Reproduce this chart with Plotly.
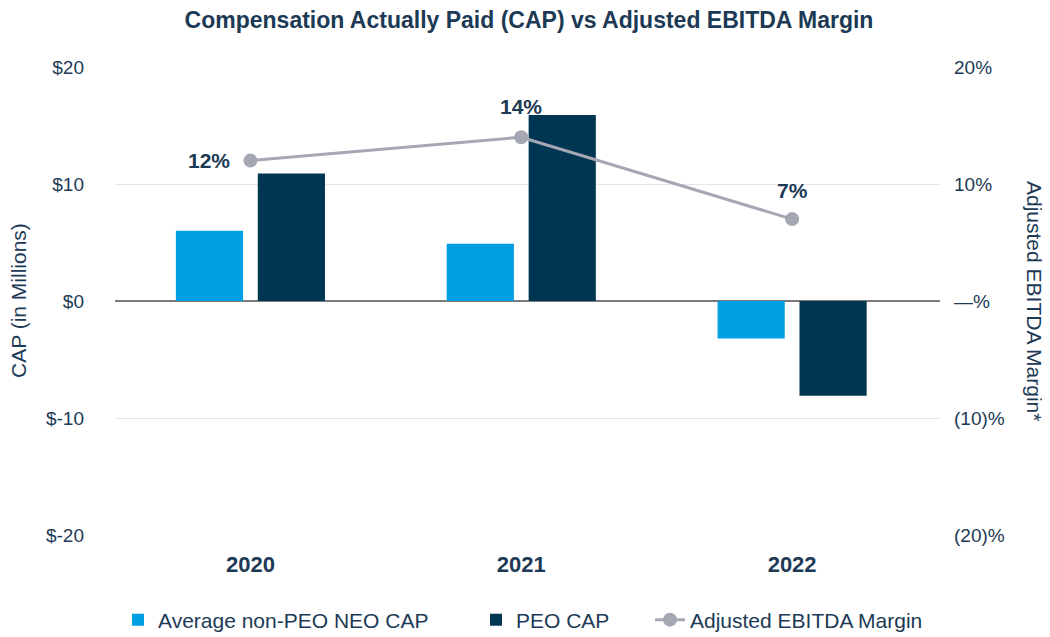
import plotly.graph_objects as go

years = ["2020", "2021", "2022"]
neo_cap = [6.0, 4.9, -3.2]
peo_cap = [10.9, 15.9, -8.1]
ebitda_margin = [12, 14, 7]
margin_labels = ["12%", "14%", "7%"]
left_tickvals = [-20, -10, 0, 10, 20]
left_ticktext = ["$-20", "$-10", "$0", "$10", "$20"]
right_tickvals = [-20, -10, 0, 10, 20]
right_ticktext = ["(20)%", "(10)%", "\u2014%", "10%", "20%"]

NAVY_TXT = "#1c3a55"
FONT = "Liberation Sans, Arial, sans-serif"

# page body has an 8px margin, so the figure is sized to fit the window
W, H = 1042, 629
L, R, T, B = 107, 110, 59, 102
PW, PH = W - L - R, H - T - B

def px_x(x):  # figure px -> paper fraction
    return (x - L) / PW

fig = go.Figure()
fig.add_trace(go.Bar(x=years, y=neo_cap, name="Average non-PEO NEO CAP",
                     marker=dict(color="#009fe3", line=dict(width=0)),
                     legend="legend"))
fig.add_trace(go.Bar(x=years, y=peo_cap, name="PEO CAP",
                     marker=dict(color="#003652", line=dict(width=0)),
                     legend="legend2"))
fig.add_trace(go.Scatter(x=years, y=ebitda_margin, name="Adjusted EBITDA Margin",
                         yaxis="y2", mode="lines+markers",
                         line=dict(color="#a5a8b3", width=3),
                         marker=dict(color="#a5a8b3", size=14),
                         cliponaxis=False, legend="legend3"))

label_shifts = [(-18, 0, "right", "middle"), (0, 17, "center", "bottom"),
                (0, 15, "center", "bottom")]
annotations = []
for i, (val, lab, (xs, ys, xa, ya)) in enumerate(zip(ebitda_margin, margin_labels, label_shifts)):
    annotations.append(dict(x=i, y=val, xref="x", yref="y2", text=f"<b>{lab}</b>",
                            showarrow=False, xanchor=xa, yanchor=ya,
                            xshift=xs, yshift=ys,
                            font=dict(family=FONT, size=21, color=NAVY_TXT)))

annotations.append(dict(text="CAP (in Millions)", xref="paper", yref="paper",
                        x=0, y=0.5, xanchor="center", yanchor="middle",
                        xshift=-97, textangle=-90, showarrow=False,
                        font=dict(size=21, color=NAVY_TXT)))
annotations.append(dict(text="Adjusted EBITDA Margin*", xref="paper", yref="paper",
                        x=1, y=0.5, xanchor="center", yanchor="middle",
                        xshift=95, textangle=90, showarrow=False,
                        font=dict(size=21, color=NAVY_TXT)))

leg_y = -(612 - (H - B)) / PH
leg_common = dict(orientation="h", y=leg_y, yanchor="middle", xanchor="left",
                  font=dict(size=21, color=NAVY_TXT), bgcolor="rgba(0,0,0,0)")

fig.update_layout(
    width=W, height=H,
    paper_bgcolor="white", plot_bgcolor="white",
    margin=dict(l=L, r=R, t=T, b=B, autoexpand=False),
    font=dict(family=FONT, size=19, color=NAVY_TXT),
    title=dict(text="<b>Compensation Actually Paid (CAP) vs Adjusted EBITDA Margin</b>",
               x=0.5, xanchor="center", y=1 - 12 / H, yanchor="middle",
               font=dict(size=23, color=NAVY_TXT)),
    barmode="group", bargap=0.395, bargroupgap=0.18,
    xaxis=dict(type="category", range=[-0.5, 2.546], showgrid=False, showline=False,
               ticks="", tickfont=dict(size=22, weight="bold"),
               ticklabelstandoff=14, automargin=False),
    yaxis=dict(range=[-20, 20], tickvals=left_tickvals, ticktext=left_ticktext,
               showgrid=True, gridcolor="#e4e4e4", gridwidth=1,
               zeroline=True, zerolinecolor="#7a7a7a", zerolinewidth=1.5,
               ticklabelstandoff=30, automargin=False),
    yaxis2=dict(range=[-20, 20], tickvals=right_tickvals, ticktext=right_ticktext,
                overlaying="y", side="right", showgrid=False, zeroline=False,
                ticklabelstandoff=13, automargin=False),
    legend=dict(x=px_x(110), **leg_common),
    legend2=dict(x=px_x(468), **leg_common),
    legend3=dict(x=px_x(642), **leg_common),
    annotations=annotations,
    showlegend=True,
)

fig.write_html("out.html")
